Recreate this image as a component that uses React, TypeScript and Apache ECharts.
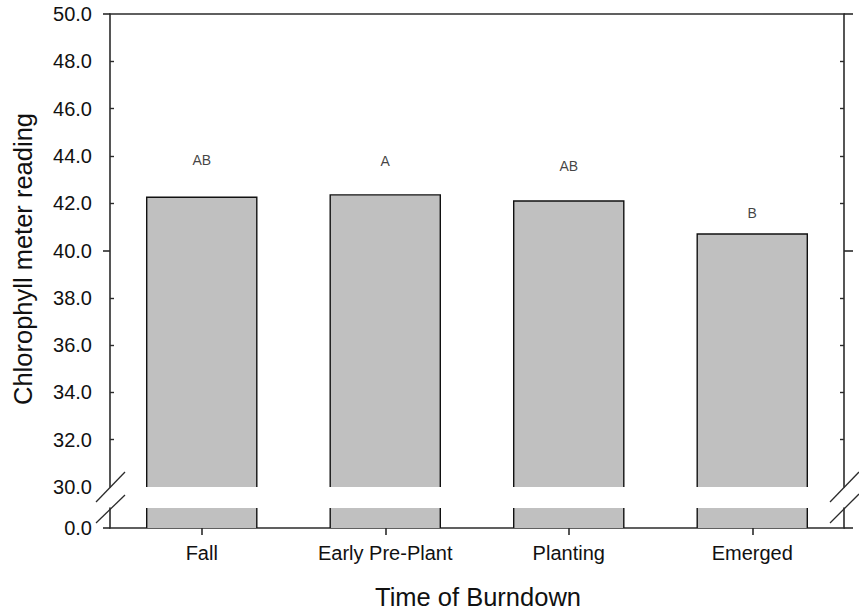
import React, { useEffect, useRef } from "react";
import * as echarts from "echarts";

const categories = ["Fall", "Early Pre-Plant", "Planting", "Emerged"];
const chlorophyll = [42.25, 42.35, 42.09, 40.7];
const letters = ["AB", "A", "AB", "B"];
const letterLevels = [43.83, 43.78, 43.57, 41.59];
const minorTicks = [32, 34, 36, 38, 42, 44, 46, 48];
const majorTicks = [40, 50];
const yTitle = "Chlorophyll meter reading";
const xTitle = "Time of Burndown";

const FONT = "'Liberation Sans', Arial, Helvetica, sans-serif";
const AX = "#2b2b2b";
const FILL = "#c0c0c0";
const BORDER = "#111";

export default function App() {
  const ref = useRef<HTMLDivElement>(null);
  useEffect(() => {
    if (!ref.current) return;
    const chart = echarts.init(ref.current, null, { renderer: "svg" });
    const line = { show: true, lineStyle: { color: AX, width: 1.6 } };
    const upperY = (pos: "left" | "right", withLabels: boolean) => [
      {
        type: "value", gridIndex: 0, position: pos, min: 30, max: 50, interval: 2,
        axisLine: line,
        axisTick: { show: true, inside: true, length: 4, customValues: minorTicks, lineStyle: { color: AX, width: 1.4 } },
        axisLabel: withLabels
          ? { show: true, margin: 18, fontSize: 20, color: "#111", fontFamily: FONT, formatter: (v: number) => v.toFixed(1) }
          : { show: false },
        splitLine: { show: false },
      },
      {
        type: "value", gridIndex: 0, position: pos, min: 30, max: 50, interval: 2,
        axisLine: { show: false },
        axisTick: { show: true, inside: false, length: pos === "left" ? 7 : 9, customValues: majorTicks, lineStyle: { color: AX, width: 1.6 } },
        axisLabel: { show: false },
        splitLine: { show: false },
      },
    ];
    const lowerY = (pos: "left" | "right", withLabels: boolean) => ({
      type: "value", gridIndex: 1, position: pos, min: 0, max: 1, interval: 1,
      axisLine: line,
      axisTick: { show: true, inside: false, length: pos === "left" ? 7 : 9, customValues: [0], lineStyle: { color: AX, width: 1.6 } },
      axisLabel: withLabels
        ? { show: true, margin: 18, fontSize: 20, color: "#111", fontFamily: FONT, customValues: [0], formatter: (v: number) => v.toFixed(1) }
        : { show: false },
      splitLine: { show: false },
    });

    // Broken bar: upper part has left/top/right borders, lower part left/right only.
    const makeRender = (lowerPart: boolean, baseValue: number, capValue: number | null) =>
      (params: any, api: any) => {
        const idx = api.value(0);
        const v = api.value(1);
        const topVal = capValue === null ? v : capValue;
        const pTop = api.coord([idx, topVal]);
        const pBase = api.coord([idx, baseValue]);
        const w = api.size([1, 0])[0] * 0.6;
        const x0 = pTop[0] - w / 2;
        const x1 = pTop[0] + w / 2;
        const yT = pTop[1];
        const yB = pBase[1];
        const children: any[] = [
          { type: "rect", shape: { x: x0, y: yT, width: w, height: yB - yT }, style: { fill: FILL } },
        ];
        if (lowerPart) {
          children.push(
            { type: "line", shape: { x1: x0, y1: yT, x2: x0, y2: yB }, style: { stroke: BORDER, lineWidth: 1.4 } },
            { type: "line", shape: { x1: x1, y1: yT, x2: x1, y2: yB }, style: { stroke: BORDER, lineWidth: 1.4 } },
          );
        } else {
          children.push({
            type: "polyline",
            shape: { points: [[x0, yB], [x0, yT], [x1, yT], [x1, yB]] },
            style: { stroke: BORDER, lineWidth: 1.4, fill: null },
          });
        }
        return { type: "group", children };
      };

    chart.setOption({
      animation: false,
      backgroundColor: "#fff",
      grid: [
        { left: 110, right: 15, top: 14, height: 473 },
        { left: 110, right: 15, top: 508, height: 20 },
      ],
      xAxis: [
        {
          type: "category", gridIndex: 0, position: "top", data: categories,
          axisLine: line, axisTick: { show: false }, axisLabel: { show: false },
        },
        {
          type: "category", gridIndex: 1, position: "bottom", data: categories,
          axisLine: line,
          axisTick: { show: true, alignWithLabel: true, length: 7, lineStyle: { color: AX, width: 1.6 } },
          axisLabel: { show: true, margin: 15, fontSize: 20, color: "#111", fontFamily: FONT },
        },
      ],
      yAxis: [
        ...upperY("left", true),
        ...upperY("right", false),
        lowerY("left", true),
        lowerY("right", false),
      ],
      series: [
        {
          type: "custom", xAxisIndex: 0, yAxisIndex: 0, z: 1,
          data: chlorophyll.map((v, i) => [i, v]),
          encode: { x: 0, y: 1 },
          renderItem: makeRender(false, 30, null),
        },
        {
          type: "custom", xAxisIndex: 1, yAxisIndex: 4, z: 1,
          data: chlorophyll.map((v, i) => [i, v]),
          encode: { x: 0, y: 1 },
          renderItem: makeRender(true, 0, 1),
        },
        {
          type: "scatter", xAxisIndex: 0, yAxisIndex: 0, symbolSize: 0,
          data: letterLevels.map((v, i) => ({ value: [categories[i], v], name: letters[i] })),
          label: {
            show: true, position: "inside", formatter: (p: any) => p.name,
            fontSize: 14, color: "#111", fontFamily: FONT,
          },
        },
      ],
      graphic: [
        {
          type: "text", x: 23, y: 259, rotation: Math.PI / 2,
          style: { text: yTitle, fontSize: 25.5, fontFamily: FONT, fill: "#111", align: "center", verticalAlign: "middle" },
        },
        {
          type: "text", x: 478, y: 597,
          style: { text: xTitle, fontSize: 25.5, fontFamily: FONT, fill: "#111", align: "center", verticalAlign: "middle" },
        },
        { type: "line", shape: { x1: 96, y1: 502, x2: 125, y2: 472 }, style: { stroke: AX, lineWidth: 1.3 } },
        { type: "line", shape: { x1: 96, y1: 523, x2: 125, y2: 495 }, style: { stroke: AX, lineWidth: 1.3 } },
        { type: "line", shape: { x1: 830, y1: 502, x2: 859, y2: 472 }, style: { stroke: AX, lineWidth: 1.3 } },
        { type: "line", shape: { x1: 830, y1: 523, x2: 859, y2: 494 }, style: { stroke: AX, lineWidth: 1.3 } },
      ],
    });
    return () => chart.dispose();
  }, []);
  return <div ref={ref} style={{ position: "fixed", left: 0, top: 0, width: 859, height: 615 }} />;
}
